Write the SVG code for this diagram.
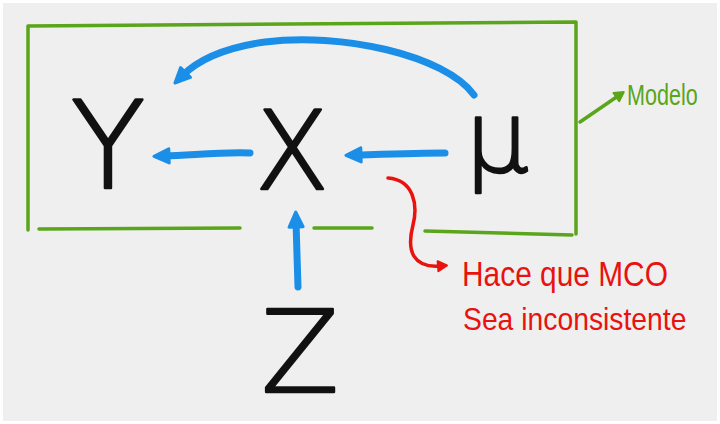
<svg xmlns="http://www.w3.org/2000/svg" width="720" height="424" viewBox="0 0 720 424">
<defs>
<style>
.box{fill:none;stroke:#5aa51a;stroke-width:3.5;stroke-linecap:round;stroke-linejoin:round}
.blue{fill:none;stroke:#1b8ee8;stroke-width:7;stroke-linecap:round}
.red{fill:none;stroke:#e8130f;stroke-width:3.5;stroke-linecap:round}
.green{fill:none;stroke:#5aa51a;stroke-width:3.5;stroke-linecap:round}
.var{font-family:"DejaVu Sans","Liberation Sans",sans-serif;font-weight:200;fill:#111;stroke:#111;stroke-width:2.5;stroke-linejoin:round}
.note{font-family:"Liberation Sans",sans-serif;fill:#e8130f}
.lbl{font-family:"Liberation Sans",sans-serif;fill:#5aa51a}
</style>
<marker id="ab" markerUnits="userSpaceOnUse" markerWidth="20" markerHeight="20" refX="8" refY="10" orient="auto" viewBox="0 0 20 20">
<path d="M18,10 L3,3 L3,17 Z" fill="#1b8ee8" stroke="#1b8ee8" stroke-width="3" stroke-linejoin="round"/>
</marker>
<marker id="ar" markerUnits="userSpaceOnUse" markerWidth="14" markerHeight="14" refX="5" refY="7" orient="auto" viewBox="0 0 14 14">
<path d="M12,7 L3,2 L3,12 Z" fill="#e8130f" stroke="#e8130f" stroke-width="2" stroke-linejoin="round"/>
</marker>
<marker id="ag" markerUnits="userSpaceOnUse" markerWidth="14" markerHeight="14" refX="5" refY="7" orient="auto" viewBox="0 0 14 14">
<path d="M12,7 L3,2 L3,12 Z" fill="#5aa51a" stroke="#5aa51a" stroke-width="2" stroke-linejoin="round"/>
</marker>
</defs>
<rect x="0" y="0" width="720" height="424" fill="#ffffff"/>
<rect x="3" y="3" width="714" height="418" fill="#efefef"/>

<g id="modelo-box">
<path class="box" d="M28,230 L28,26 L576,22 L576,234"/>
<path class="box" d="M39,229 L240,228"/>
<path class="box" d="M314,228 L372,228"/>
<path class="box" d="M425,231 L572,235"/>
</g>

<g id="connectors">
<path class="blue" d="M474,95 C 445,55 340,32 265,42 C 222,48 196,62 182,76" marker-end="url(#ab)"/>
<path class="blue" d="M250,153 C 220,152 195,155 164,156" marker-end="url(#ab)"/>
<path class="blue" d="M445,153 C 420,153 390,154 356,155" marker-end="url(#ab)"/>
<path class="blue" d="M298,287 L296,222" marker-end="url(#ab)"/>
<path class="red" d="M388,178 C 414,180 418,205 413,225 C 406,252 414,268 440,266" marker-end="url(#ar)"/>
<path class="green" d="M580,122 L618,96" marker-end="url(#ag)"/>
</g>

<g id="node-Y"><text class="var" x="108" y="188" font-size="122" text-anchor="middle">Y</text></g>
<g id="node-X"><text class="var" x="292" y="189" font-size="108" text-anchor="middle">X</text></g>
<g id="node-mu"><text class="var" x="497" y="172" font-size="100" text-anchor="middle">μ</text></g>
<g id="node-Z"><text class="var" x="300" y="392" font-size="114" text-anchor="middle">Z</text></g>

<g id="label-modelo"><text class="lbl" transform="translate(627,105) scale(0.72,1)" font-size="30">Modelo</text></g>
<g id="label-note">
<text class="note" transform="translate(462,286) scale(0.83,1)" font-size="36">Hace que MCO</text>
<text class="note" transform="translate(463,330) scale(0.885,1)" font-size="32">Sea inconsistente</text>
</g>
</svg>
